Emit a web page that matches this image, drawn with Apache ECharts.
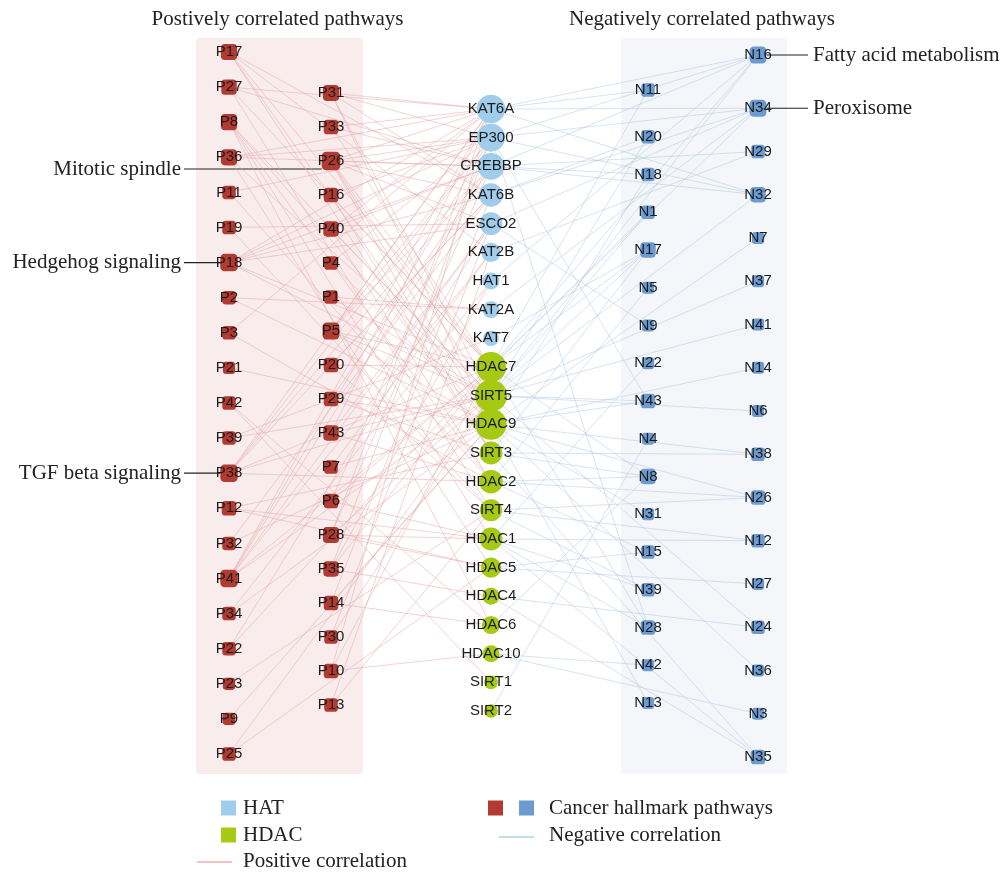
<!DOCTYPE html>
<html>
<head>
<meta charset="utf-8">
<script src="https://cdn.jsdelivr.net/npm/echarts@6/dist/echarts.min.js"></script>
<style>
  html, body { margin: 0; padding: 0; background: #ffffff; }
  #chart { width: 1008px; height: 876px; }
</style>
</head>
<body>
<div id="chart"></div>
<script>
// ---- Node lists, top to bottom within each column ----
const posOuter = ['P17','P27','P8','P36','P11','P19','P18','P2','P3','P21','P42','P39','P38','P12','P32','P41','P34','P22','P23','P9','P25'];
const posInner = ['P31','P33','P26','P16','P40','P4','P1','P5','P20','P29','P43','P7','P6','P28','P35','P14','P30','P10','P13'];
const hatGenes = ['KAT6A','EP300','CREBBP','KAT6B','ESCO2','KAT2B','HAT1','KAT2A','KAT7'];
const hdacGenes = ['HDAC7','SIRT5','HDAC9','SIRT3','HDAC2','SIRT4','HDAC1','HDAC5','HDAC4','HDAC6','HDAC10','SIRT1','SIRT2'];
const negInner = ['N11','N20','N18','N1','N17','N5','N9','N22','N43','N4','N8','N31','N15','N39','N28','N42','N13'];
const negOuter = ['N16','N34','N29','N32','N7','N37','N41','N14','N6','N38','N26','N12','N27','N24','N36','N3','N35'];

// ---- Correlations: pathway -> enzymes ----
const positiveLinks = {
  P17: ['KAT6B','KAT2B','HDAC7','HDAC9','SIRT3'],
  P27: ['KAT6A','CREBBP','HDAC7','SIRT4'],
  P8:  ['SIRT5','HDAC9','HDAC2','HDAC1','HDAC6'],
  P36: ['KAT6A','EP300','CREBBP','SIRT5','HDAC5'],
  P11: ['EP300','HDAC2'],
  P19: ['ESCO2','SIRT4'],
  P18: ['KAT6A','EP300','CREBBP','KAT6B','ESCO2','HDAC7','SIRT5'],
  P2:  ['KAT2A','HDAC9'],
  P3:  ['KAT6A','HDAC2'],
  P21: ['HDAC9'],
  P42: ['SIRT1','HDAC6'],
  P39: ['KAT7','SIRT5'],
  P38: ['KAT6A','EP300','CREBBP','KAT6B','HDAC7','SIRT5','HDAC2'],
  P12: ['SIRT3','HDAC1','HDAC5'],
  P32: ['KAT6B','HDAC9'],
  P41: ['KAT6A','EP300','CREBBP','ESCO2','KAT2B','HDAC7','SIRT5'],
  P34: ['HAT1','HDAC9'],
  P22: ['ESCO2','HDAC7'],
  P23: ['SIRT4'],
  P9:  ['HDAC9'],
  P25: ['SIRT5','HDAC5'],
  P31: ['KAT6A','EP300','KAT6B','SIRT5','HDAC9'],
  P33: ['KAT6A','CREBBP','HDAC7'],
  P26: ['KAT6A','EP300','CREBBP','KAT6B','ESCO2','HDAC7','SIRT5','HDAC9','SIRT3'],
  P16: ['EP300','HDAC7','SIRT3'],
  P40: ['KAT6A','CREBBP','SIRT5','HDAC2'],
  P4:  ['EP300','HDAC9'],
  P1:  ['KAT2A','SIRT5'],
  P5:  ['KAT6A','EP300','CREBBP','HDAC7','SIRT5','HDAC9'],
  P20: ['KAT6B','HDAC7','SIRT4'],
  P29: ['CREBBP','HDAC9','SIRT3'],
  P43: ['KAT6A','ESCO2','SIRT5','HDAC2'],
  P7:  ['KAT2B','HDAC9'],
  P6:  ['EP300','HDAC7','HDAC1'],
  P28: ['KAT6A','CREBBP','SIRT5','HDAC1','HDAC5'],
  P35: ['EP300','HAT1','HDAC7','HDAC4'],
  P14: ['KAT6B','HDAC9','HDAC6'],
  P30: ['ESCO2','SIRT5'],
  P10: ['KAT6A','HDAC7','HDAC10'],
  P13: ['KAT2B','SIRT4']
};
const negativeLinks = {
  N11: ['KAT6A','HDAC7'],
  N20: ['KAT6B','SIRT5'],
  N18: ['CREBBP','HDAC9'],
  N1:  ['HDAC7','SIRT5'],
  N17: ['KAT7','HDAC7','SIRT5','SIRT3'],
  N5:  ['HDAC2'],
  N9:  ['ESCO2'],
  N22: ['HDAC1'],
  N43: ['EP300','SIRT5','HDAC9'],
  N4:  ['SIRT2'],
  N8:  ['HDAC7','SIRT3','HDAC2','HDAC6'],
  N31: ['HDAC9'],
  N15: ['HDAC2','HDAC5'],
  N39: ['SIRT4','HDAC1'],
  N28: ['EP300','HDAC7','HDAC1'],
  N42: ['HDAC10'],
  N13: ['HDAC9'],
  N16: ['KAT6A','EP300','CREBBP','HAT1','HDAC7','SIRT5'],
  N34: ['KAT6A','EP300','KAT6B','ESCO2','KAT2A','HDAC7'],
  N29: ['CREBBP','KAT2B'],
  N32: ['KAT6A','EP300','CREBBP','SIRT5'],
  N7:  ['HDAC9'],
  N37: ['SIRT5'],
  N41: ['SIRT5'],
  N14: ['HDAC9'],
  N6:  ['SIRT5'],
  N38: ['HDAC9','SIRT3'],
  N26: ['HDAC9','SIRT4','HDAC2'],
  N12: ['SIRT4','HDAC1'],
  N27: ['HDAC5'],
  N24: ['SIRT5','HDAC4'],
  N36: ['HDAC9'],
  N3:  ['HDAC10'],
  N35: ['SIRT3','HDAC1','HDAC4']
};

// ---- Text ----
const panelTitles = ['Postively correlated pathways', 'Negatively correlated pathways'];
const callouts = [
  { node: 'P26', text: 'Mitotic spindle', side: 'left', dy: 8 },
  { node: 'P18', text: 'Hedgehog signaling', side: 'left', dy: 0 },
  { node: 'P38', text: 'TGF beta signaling', side: 'left', dy: 0 },
  { node: 'N16', text: 'Fatty acid metabolism', side: 'right', dy: 0 },
  { node: 'N34', text: 'Peroxisome', side: 'right', dy: 0 }
];
const legendLabels = ['HAT', 'HDAC', 'Positive correlation', 'Cancer hallmark pathways', 'Negative correlation'];

// ---- Palette ----
const C = {
  pos: '#b33a30', neg: '#6b9bd1', hat: '#9fcdeb', hdac: '#a6c912',
  posEdge: '#e2a6a6', negEdge: '#afc6e1',
  posPanel: '#f9eced', negPanel: '#f4f6f9',
  legendPos: '#f0b0b2', legendNeg: '#a9d5dc'
};
const SERIF = '"Liberation Serif", "DejaVu Serif", serif';
const SANS = '"Liberation Sans", Arial, sans-serif';
const SERIF_FONT = '21px ' + SERIF;

// ---- Column layout (axis units equal page pixels) ----
const columns = [
  { names: posOuter,  x: 229, top: 52,  bottom: 754, lead: 0,  kind: 'pos' },
  { names: posInner,  x: 331, top: 93,  bottom: 705, lead: 0,  kind: 'pos' },
  { names: hatGenes.concat(hdacGenes), x: 491, top: 109, bottom: 711, lead: 0, kind: 'gene' },
  { names: negInner,  x: 648, top: 90,  bottom: 703, lead: 9,  kind: 'neg' },
  { names: negOuter,  x: 758, top: 55,  bottom: 757, lead: 10, kind: 'neg' }
];

// degree of every node
const degree = {};
function bump(n) { degree[n] = (degree[n] || 0) + 1; }
const links = [];
Object.keys(positiveLinks).forEach(function (p) {
  positiveLinks[p].forEach(function (g) {
    bump(p); bump(g);
    links.push({ source: p, target: g, lineStyle: { color: C.posEdge } });
  });
});
Object.keys(negativeLinks).forEach(function (n) {
  negativeLinks[n].forEach(function (g) {
    bump(n); bump(g);
    links.push({ source: g, target: n, lineStyle: { color: C.negEdge } });
  });
});

const nodes = [];
const nodeIndex = {};
columns.forEach(function (col) {
  const n = col.names.length;
  const step = (col.bottom - col.top - col.lead) / (n - 1);
  col.names.forEach(function (name, i) {
    const y = col.top + i * step + (i > 0 ? col.lead : 0);
    const d = degree[name] || 1;
    let color, symbol, size;
    if (col.kind === 'gene') {
      color = hatGenes.indexOf(name) >= 0 ? C.hat : C.hdac;
      symbol = 'circle';
      size = 9 + 4.6 * Math.sqrt(d);
    } else {
      color = col.kind === 'pos' ? C.pos : C.neg;
      symbol = 'roundRect';
      size = 9 + 3.2 * Math.sqrt(d);
    }
    nodeIndex[name] = { x: col.x, y: y, size: size };
    nodes.push({
      name: name,
      value: [col.x, y],
      symbol: symbol,
      symbolSize: size,
      itemStyle: { color: color }
    });
  });
});

const chart = echarts.init(document.getElementById('chart'), null, { renderer: 'canvas' });

chart.setOption({
  animation: false,
  backgroundColor: '#ffffff',
  grid: { left: 0, right: 0, top: 0, bottom: 0 },
  xAxis: { type: 'value', min: 0, max: 1008, show: false },
  yAxis: { type: 'value', min: 0, max: 876, inverse: true, show: false },
  series: [{
    type: 'graph',
    coordinateSystem: 'cartesian2d',
    data: nodes,
    links: links,
    z: 3,
    lineStyle: { width: 0.7, opacity: 0.7, curveness: 0 },
    label: {
      show: true,
      position: 'inside',
      formatter: '{b}',
      fontFamily: SANS,
      fontSize: 15,
      color: '#1b1b1b'
    },
    emphasis: { disabled: true }
  }]
});

// ---- Panels, titles, callouts and legend ----
function px(x, y) { return chart.convertToPixel({ gridIndex: 0 }, [x, y]); }
const g = [];

const panels = [
  { x0: 196, x1: 363, fill: C.posPanel, title: panelTitles[0] },
  { x0: 621, x1: 787, fill: C.negPanel, title: panelTitles[1] }
];
panels.forEach(function (p) {
  const a = px(p.x0, 38), b = px(p.x1, 774);
  g.push({
    type: 'rect', z: 0,
    shape: { x: a[0], y: a[1], width: b[0] - a[0], height: b[1] - a[1], r: 4 },
    style: { fill: p.fill }
  });
  g.push({
    type: 'text', z: 5,
    x: (a[0] + b[0]) / 2 - 2, y: 19,
    style: { text: p.title, fill: '#222', font: SERIF_FONT, align: 'center', verticalAlign: 'middle' }
  });
});

callouts.forEach(function (c) {
  const n = nodeIndex[c.node];
  const p = px(n.x, n.y + c.dy);
  const half = n.size / 2;
  if (c.side === 'left') {
    g.push({ type: 'line', z: 1, shape: { x1: 184, y1: p[1], x2: p[0] - half, y2: p[1] }, style: { stroke: '#222', lineWidth: 1.2 } });
    g.push({ type: 'text', z: 5, x: 181, y: p[1], style: { text: c.text, fill: '#222', font: SERIF_FONT, align: 'right', verticalAlign: 'middle' } });
  } else {
    g.push({ type: 'line', z: 1, shape: { x1: p[0] + half, y1: p[1], x2: 808, y2: p[1] }, style: { stroke: '#222', lineWidth: 1.2 } });
    g.push({ type: 'text', z: 5, x: 813, y: p[1], style: { text: c.text, fill: '#222', font: SERIF_FONT, align: 'left', verticalAlign: 'middle' } });
  }
});

// legend
function legendText(x, y, t) {
  g.push({ type: 'text', z: 5, x: x, y: y, style: { text: t, fill: '#222', font: SERIF_FONT, align: 'left', verticalAlign: 'middle' } });
}
function legendSquare(x, y, color) {
  g.push({ type: 'rect', z: 5, shape: { x: x, y: y - 7.5, width: 15, height: 15 }, style: { fill: color } });
}
function legendLine(x0, x1, y, color) {
  g.push({ type: 'line', z: 5, shape: { x1: x0, y1: y, x2: x1, y2: y }, style: { stroke: color, lineWidth: 1.5 } });
}
legendSquare(221, 808, C.hat);   legendText(243, 808, legendLabels[0]);
legendSquare(221, 835, C.hdac);  legendText(243, 835, legendLabels[1]);
legendLine(197, 232, 862, C.legendPos); legendText(243, 861, legendLabels[2]);
legendSquare(488, 808, C.pos); legendSquare(519, 808, C.neg); legendText(549, 808, legendLabels[3]);
legendLine(499, 534, 837, C.legendNeg); legendText(549, 835, legendLabels[4]);

chart.setOption({ graphic: g });
</script>
</body>
</html>
